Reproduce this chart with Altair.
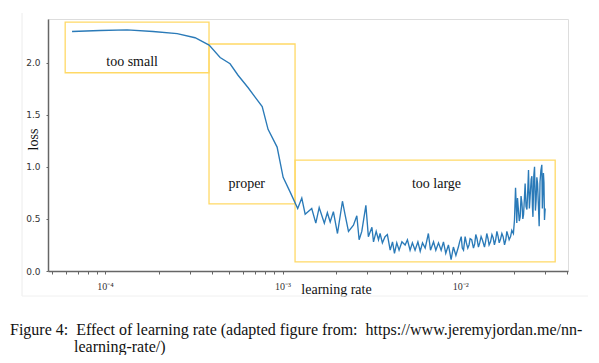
import altair as alt
import pandas as pd

# ---- learning-rate sweep (log10 of learning rate, loss) ----
lr_log10 = [
    -4.186, -4.028, -3.876, -3.730, -3.594, -3.493, -3.414, -3.352, -3.296, -3.251,
    -3.194, -3.155, -3.115, -3.082, -3.031, -2.997, -2.958, -2.915, -2.892, -2.873,
    -2.836, -2.813, -2.794, -2.765, -2.748, -2.732, -2.714, -2.691, -2.663, -2.648,
    -2.629, -2.601, -2.582, -2.569, -2.554, -2.531, -2.517, -2.497, -2.488, -2.473,
    -2.460, -2.451, -2.438, -2.423, -2.410, -2.394, -2.381, -2.370, -2.357, -2.344,
    -2.328, -2.310, -2.297, -2.282, -2.269, -2.254, -2.238, -2.225, -2.212, -2.197,
    -2.179, -2.167, -2.150, -2.137, -2.122, -2.107, -2.094, -2.081, -2.066, -2.051,
    -2.038, -2.024, -2.010, -1.994, -1.981, -1.972, -1.957, -1.944, -1.925, -1.912,
    -1.897, -1.882, -1.863, -1.850, -1.837, -1.821, -1.807, -1.793, -1.780, -1.765,
    -1.750, -1.737, -1.724, -1.709, -1.694, -1.688, -1.681, -1.672, -1.662, -1.652,
    -1.643, -1.634, -1.624, -1.615, -1.606, -1.596, -1.590, -1.581, -1.572, -1.564,
    -1.555, -1.545, -1.540, -1.534, -1.531, -1.525, -1.521,
]
loss = [
    2.30, 2.31, 2.315, 2.30, 2.28, 2.24, 2.17, 2.05, 1.99, 1.88,
    1.76, 1.67, 1.58, 1.36, 1.19, 0.90, 0.76, 0.60, 0.70, 0.545,
    0.60, 0.46, 0.61, 0.46, 0.56, 0.47, 0.57, 0.36, 0.67, 0.54,
    0.38, 0.44, 0.53, 0.30, 0.38, 0.63, 0.33, 0.42, 0.28, 0.38,
    0.30, 0.36, 0.27, 0.33, 0.35, 0.20, 0.28, 0.17, 0.27, 0.20,
    0.28, 0.25, 0.30, 0.20, 0.27, 0.20, 0.28, 0.19, 0.27, 0.22,
    0.36, 0.20, 0.28, 0.20, 0.27, 0.20, 0.28, 0.17, 0.25, 0.11,
    0.23, 0.15, 0.23, 0.33, 0.20, 0.33, 0.22, 0.31, 0.22, 0.35,
    0.23, 0.33, 0.23, 0.36, 0.25, 0.35, 0.25, 0.38, 0.27, 0.36,
    0.25, 0.38, 0.30, 0.39, 0.49, 0.80, 0.46, 0.59, 0.52, 0.65,
    0.54, 0.84, 0.59, 0.97, 0.71, 0.91, 0.52, 1.00, 0.68, 0.84,
    0.43, 0.97, 1.02, 0.78, 0.94, 0.49, 0.60,
]
# denser noisy samples in the "too large" region
extra_lr_log10 = [
    -2.003, -1.988, -1.965, -1.950, -1.935, -1.918, -1.905, -1.890, -1.875, -1.856,
    -1.843, -1.829, -1.814, -1.800, -1.786, -1.772, -1.758, -1.743, -1.730, -1.716,
    -1.700, -1.684, -1.677, -1.667, -1.657, -1.647, -1.638, -1.629, -1.619, -1.610,
    -1.600, -1.593, -1.585, -1.576, -1.568, -1.559, -1.550, -1.537, -1.528, -1.523,
]
extra_loss = [
    0.28, 0.22, 0.27, 0.25, 0.30, 0.26, 0.31, 0.27, 0.30, 0.29,
    0.31, 0.28, 0.32, 0.30, 0.33, 0.31, 0.33, 0.30, 0.34, 0.33,
    0.36, 0.62, 0.70, 0.48, 0.72, 0.50, 0.70, 0.62, 0.78, 0.60,
    0.88, 0.62, 0.92, 0.58, 0.90, 0.62, 0.86, 0.60, 0.85, 0.55,
]

# ---- annotation boxes ----
box_names = ["too small", "proper", "too large"]
box_lr_lo = [5.96e-5, 3.85e-4, 1.175e-3]
box_lr_hi = [3.85e-4, 1.175e-3, 3.43e-2]
box_loss_lo = [1.904, 0.644, 0.087]
box_loss_hi = [2.39, 2.18, 1.064]
label_lr = [1.42e-4, 6.28e-4, 7.36e-3]
label_loss = [2.01, 0.84, 0.84]

x_ticks = [5e-5, 6e-5, 7e-5, 8e-5, 9e-5,
           1e-4, 2e-4, 3e-4, 4e-4, 5e-4, 6e-4, 7e-4, 8e-4, 9e-4,
           1e-3, 2e-3, 3e-3, 4e-3, 5e-3, 6e-3, 7e-3, 8e-3, 9e-3,
           1e-2, 2e-2, 3e-2, 4e-2]
y_ticks = [0.0, 0.5, 1.0, 1.5, 2.0]
x_domain = [4.77e-5, 0.0405]
y_domain = [0.0, 2.42]

caption_1 = "Figure 4:\u00a0\u00a0Effect of learning rate (adapted figure from:\u00a0\u00a0https://www.jeremyjordan.me/nn-"
caption_2 = "learning-rate/)"

SERIF = "Liberation Serif"

curve = pd.DataFrame({
    "lr": [10 ** v for v in lr_log10 + extra_lr_log10],
    "loss": loss + extra_loss,
})
boxes = pd.DataFrame({
    "name": box_names, "x": box_lr_lo, "x2": box_lr_hi,
    "y": box_loss_lo, "y2": box_loss_hi, "lx": label_lr, "ly": label_loss,
})

xs = alt.Scale(type="log", domain=x_domain, nice=False)
ys = alt.Scale(domain=y_domain, nice=False, zero=False)

x_axis = alt.Axis(
    values=x_ticks,
    labelExpr="abs(log(datum.value)/LN10 - round(log(datum.value)/LN10)) < 0.01 ? '10' + ['⁰','⁻¹','⁻²','⁻³','⁻⁴'][-round(log(datum.value)/LN10)] : ''",
    labelFont=SERIF, labelFontSize=10, labelColor="#333", labelPadding=7,
    labelOverlap=False, labelFlush=False,
    tickSize=3, tickColor="#666", domainColor="#666", domainWidth=1.5,
    grid=False,
    title="learning rate", titleFont=SERIF, titleFontSize=14, titleFontWeight="normal",
    titleColor="#111", titleX=288, titleY=18, titleBaseline="middle", titleAlign="center",
)
y_axis = alt.Axis(
    values=y_ticks, format=".1f",
    labelFont="DejaVu Sans", labelFontSize=9, labelColor="#333", labelPadding=6,
    tickSize=2, tickColor="#666", domainColor="#666", domainWidth=1.5,
    grid=False,
    title="loss", titleFont=SERIF, titleFontSize=14, titleFontWeight="normal",
    titleColor="#111", titleX=-15, titleY=120, titleAngle=-90,
    titleAlign="center", titleBaseline="middle",
)

line = alt.Chart(curve).mark_line(color="#2a7ab8", strokeWidth=1.35).encode(
    x=alt.X("lr:Q", scale=xs, axis=x_axis),
    y=alt.Y("loss:Q", scale=ys, axis=y_axis),
)

rects = alt.Chart(boxes).mark_rect(
    fillOpacity=0, stroke="#FFD966", strokeWidth=1.3
).encode(
    x=alt.X("x:Q", scale=xs), x2="x2:Q",
    y=alt.Y("y:Q", scale=ys), y2="y2:Q",
)

labels = alt.Chart(boxes).mark_text(
    font=SERIF, fontSize=14, color="#111", align="center", baseline="middle"
).encode(
    x=alt.X("lx:Q", scale=xs), y=alt.Y("ly:Q", scale=ys), text="name:N"
)

cap1 = alt.Chart(pd.DataFrame({"t": [caption_1]})).mark_text(
    font=SERIF, fontSize=16, color="#111", align="left", baseline="middle"
).encode(text="t:N", x=alt.value(-38), y=alt.value(311))
cap2 = alt.Chart(pd.DataFrame({"t": [caption_2]})).mark_text(
    font=SERIF, fontSize=16, color="#111", align="left", baseline="middle"
).encode(text="t:N", x=alt.value(26), y=alt.value(328))

frame_v = alt.Chart(pd.DataFrame({"a": [0]})).mark_rule(color="#ececec", strokeWidth=1).encode(
    x=alt.value(-26), y=alt.value(-6), y2=alt.value(277)
)
frame_h = alt.Chart(pd.DataFrame({"a": [0]})).mark_rule(color="#f0f0f0", strokeWidth=1).encode(
    x=alt.value(-26), x2=alt.value(540), y=alt.value(277)
)

chart = alt.layer(frame_v, frame_h, rects, line, labels, cap1, cap2).properties(
    width=520, height=252,
    autosize=alt.AutoSizeParams(type="none"),
    padding={"left": 40, "top": 11, "right": 23, "bottom": 84},
).configure_view(stroke="#999", strokeWidth=1.2).configure(background="white")

chart.save("out.html", embed_options={"renderer": "svg", "actions": False})
